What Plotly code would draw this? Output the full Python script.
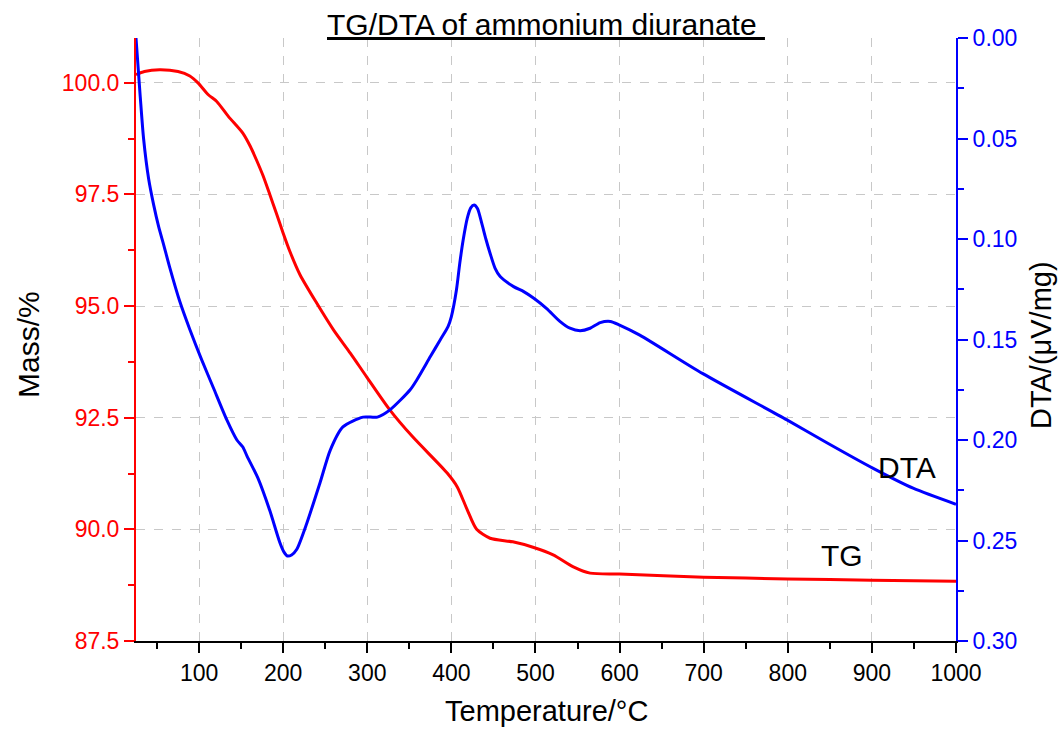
import plotly.graph_objects as go

# TG curve: temperature (°C) and residual mass (%)
tg_temp = [25, 35, 53, 75, 89, 99, 111, 121, 135, 152, 161, 168, 176, 184, 192,
           200, 208, 220, 240, 260, 280, 299, 327, 354, 395, 407, 419, 430, 446,
           473, 497, 521, 545, 565, 600, 700, 800, 900, 1000]
tg_mass = [100.18, 100.25, 100.29, 100.25, 100.15, 99.99, 99.73, 99.58, 99.24,
           98.87, 98.57, 98.28, 97.92, 97.50, 97.07, 96.63, 96.22, 95.70, 95.06,
           94.46, 93.94, 93.42, 92.67, 92.07, 91.26, 90.95, 90.43, 90.00, 89.80,
           89.72, 89.60, 89.43, 89.16, 89.02, 89.00, 88.93, 88.89, 88.86, 88.84]

# DTA curve: temperature (°C) and signal (µV/mg)
dta_temp = [25, 30, 34, 40, 46, 52, 58, 65, 77, 89, 103, 117, 133, 145, 152,
            157, 170, 184, 196, 201, 205, 210, 216, 228, 244, 256, 271, 295, 312,
            327, 351, 359, 375, 387, 396, 400, 406, 410, 414, 419, 423, 427, 431,
            436, 441, 446, 452, 458, 474, 486, 498, 513, 529, 541, 553, 565, 577,
            589, 600, 624, 699, 799, 847, 901, 949, 1000]
dta_val = [0.0, 0.029, 0.050, 0.070, 0.083, 0.094, 0.103, 0.114, 0.131, 0.145,
           0.160, 0.174, 0.190, 0.200, 0.2035, 0.208, 0.219, 0.235, 0.251, 0.2558,
           0.2577, 0.2572, 0.2545, 0.2415, 0.221, 0.205, 0.1935, 0.1886, 0.1886,
           0.185, 0.175, 0.170, 0.1585, 0.150, 0.1436, 0.1386, 0.1254, 0.112,
           0.1005, 0.0895, 0.0845, 0.0831, 0.0848, 0.092, 0.100, 0.1071, 0.1146,
           0.1187, 0.1237, 0.1262, 0.1295, 0.1345, 0.141, 0.1444, 0.1456, 0.1444,
           0.1416, 0.141, 0.1428, 0.1478, 0.167, 0.190, 0.2015, 0.214, 0.224, 0.232]

RED = "#ff0000"
BLUE = "#0000ff"
FONT = "Liberation Sans, Arial, sans-serif"
TICK_SIZE = 23
LABEL_SIZE = 30

fig = go.Figure()
fig.add_trace(go.Scatter(x=tg_temp, y=tg_mass, mode="lines", name="TG",
                         line=dict(color=RED, width=3, shape="spline", smoothing=0.7),
                         yaxis="y"))
fig.add_trace(go.Scatter(x=dta_temp, y=dta_val, mode="lines", name="DTA",
                         line=dict(color=BLUE, width=3, shape="spline", smoothing=0.7),
                         yaxis="y2"))

W, H = 1059, 731
L, R, T, B = 136, 103, 38, 90
pw, ph = W - L - R, H - T - B


def px(x):
    return (x - L) / pw


def py(y):
    return (H - B - y) / ph


grid = dict(showgrid=True, gridcolor="#c8c8c8", gridwidth=1, griddash="dash")

fig.update_layout(
    width=W, height=H,
    margin=dict(l=L, r=R, t=T, b=B, pad=0),
    paper_bgcolor="white", plot_bgcolor="white",
    showlegend=False,
    font=dict(family=FONT, size=TICK_SIZE, color="black"),
    xaxis=dict(range=[25, 1000], tick0=0, dtick=100, ticks="outside", ticklen=10,
               tickwidth=2, tickcolor="black", showline=True, linecolor="black",
               linewidth=2, zeroline=False, tickfont=dict(size=TICK_SIZE, color="black"),
               minor=dict(dtick=50, tick0=0, ticks="outside", ticklen=6, tickwidth=2,
                          tickcolor="black", showgrid=False),
               **grid),
    yaxis=dict(range=[87.5, 101.0], tick0=87.5, dtick=2.5, tickformat=".1f",
               ticks="outside", ticklen=10, tickwidth=2, tickcolor=RED,
               showline=True, linecolor=RED, linewidth=2, zeroline=False,
               tickfont=dict(size=TICK_SIZE, color=RED),
               minor=dict(dtick=1.25, tick0=87.5, ticks="outside", ticklen=6,
                          tickwidth=2, tickcolor=RED, showgrid=False),
               **grid),
    yaxis2=dict(range=[0.30, 0.0], overlaying="y", side="right", anchor="x",
                tick0=0, dtick=0.05, tickformat=".2f", ticks="outside", ticklen=10,
                tickwidth=2, tickcolor=BLUE, showline=True, linecolor=BLUE,
                linewidth=2, zeroline=False, showgrid=False,
                tickfont=dict(size=TICK_SIZE, color=BLUE),
                minor=dict(dtick=0.025, tick0=0, ticks="outside", ticklen=6,
                           tickwidth=2, tickcolor=BLUE, showgrid=False)),
)

ann = [
    dict(text="<u>TG/DTA of ammonium diuranate&nbsp;</u>", x=px(546), y=py(25), size=LABEL_SIZE),
    dict(text="Temperature/°C", x=px(546), y=py(711), size=29),
    dict(text="Mass/%", x=px(28), y=py(345), textangle=-90, size=LABEL_SIZE),
    dict(text="DTA/(μV/mg)", x=px(1041), y=py(345), textangle=-90, size=29),
    dict(text="DTA", x=px(907), y=py(467), size=LABEL_SIZE),
    dict(text="TG", x=px(842), y=py(555), size=LABEL_SIZE),
]
for a in ann:
    size = a.pop("size")
    fig.add_annotation(xref="paper", yref="paper", showarrow=False,
                       xanchor="center", yanchor="middle",
                       font=dict(family=FONT, size=size, color="black"), **a)

fig.write_html("out.html")
